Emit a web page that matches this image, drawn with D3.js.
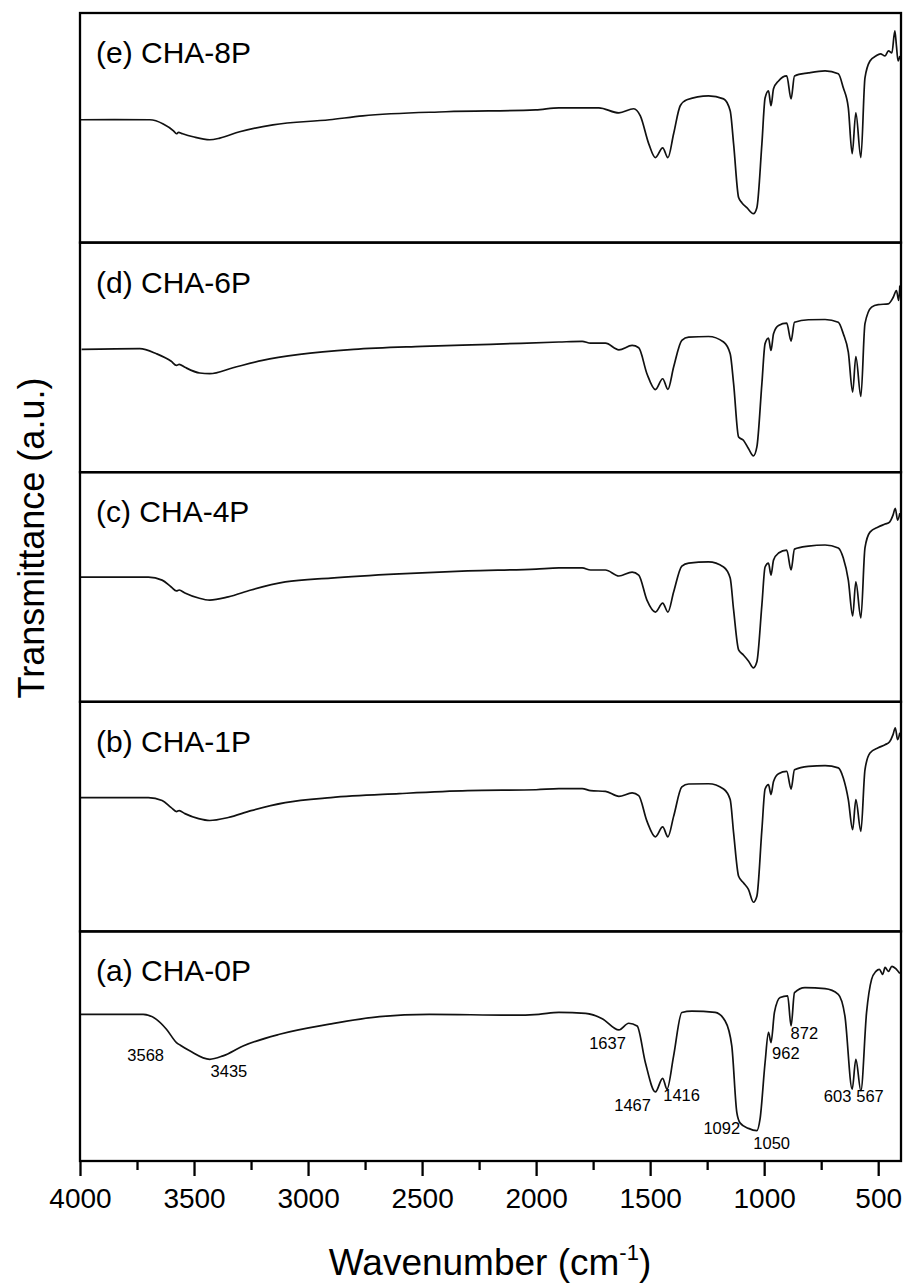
<!DOCTYPE html>
<html><head><meta charset="utf-8">
<script src="https://cdn.jsdelivr.net/npm/d3@7"></script>
<style>
body{margin:0;background:#fff}
svg{display:block}
text{font-family:"Liberation Sans", Arial, Helvetica, sans-serif;fill:#000}
</style>
</head><body>
<svg id="chart" width="905" height="1283"></svg>
<script>
// ---------- DATA ----------
const panelLabels = ["(e) CHA-8P", "(d) CHA-6P", "(c) CHA-4P", "(b) CHA-1P", "(a) CHA-0P"];

// [wavenumber (cm-1), transmittance (a.u., 0-100 within each panel)]
const spectrumE = [[4000,53.5],[3850,53.6],[3694,53.5],[3635,51.7],[3590,48.7],[3577,47.4],[3568,48.0],[3550,47.4],[3504,46.1],[3431,44.8],[3387,45.5],[3300,48.3],[3154,51.3],[2906,53.5],[2760,55.2],[2396,57.0],[2002,57.8],[1900,58.7],[1725,58.7],[1637,56.5],[1572,58.3],[1543,55.2],[1506,43.0],[1477,37.0],[1445,41.3],[1422,37.0],[1397,47.4],[1368,59.6],[1339,62.2],[1244,63.9],[1178,62.6],[1149,57.4],[1134,43.0],[1112,19.6],[1098,17.4],[1076,15.2],[1047,12.6],[1032,15.2],[1010,43.0],[996,63.0],[981,66.1],[970,59.6],[959,67.0],[937,70.4],[901,72.6],[882,62.6],[867,72.6],[806,73.9],[733,74.8],[675,73.5],[653,67.4],[631,58.7],[614,38.7],[598,56.5],[576,37.0],[558,71.7],[536,79.1],[510,81.3],[490,82.2],[470,81.3],[455,83.5],[440,82.6],[427,92.2],[420,85.7],[413,79.1],[405,81.3]];

const spectrumD = [[3993,53.5],[3738,53.8],[3665,51.6],[3600,48.3],[3577,46.5],[3565,47.0],[3540,45.7],[3475,43.2],[3431,42.9],[3329,45.5],[3200,48.7],[3037,51.3],[2800,53.5],[2500,54.8],[2200,55.7],[1900,56.7],[1798,57.0],[1761,56.2],[1696,56.2],[1637,53.3],[1579,55.2],[1550,54.2],[1514,42.9],[1477,36.0],[1445,40.7],[1422,36.1],[1397,45.8],[1361,57.4],[1331,58.8],[1244,59.1],[1178,56.7],[1149,51.6],[1134,38.6],[1112,15.3],[1091,13.9],[1069,10.3],[1047,7.1],[1032,11.0],[1010,38.6],[996,56.0],[981,58.4],[970,53.0],[959,60.3],[937,63.9],[901,64.9],[882,57.1],[867,65.3],[806,66.4],[733,66.5],[675,65.3],[653,60.3],[631,52.3],[612,34.9],[598,50.4],[576,33.0],[558,64.7],[529,71.9],[500,73.0],[456,73.3],[434,76.2],[420,79.1],[410,74.8],[405,81.3]];

const spectrumC = [[4000,54.3],[3700,54.3],[3640,53.0],[3600,50.0],[3577,48.3],[3565,48.7],[3540,47.4],[3480,45.2],[3431,44.3],[3350,45.7],[3250,48.7],[3100,52.2],[2900,53.9],[2600,55.7],[2300,57.0],[2000,57.8],[1900,58.3],[1798,58.3],[1761,57.4],[1696,57.4],[1637,54.8],[1579,56.5],[1550,55.2],[1514,44.3],[1477,39.1],[1445,43.0],[1422,39.1],[1397,47.8],[1361,59.1],[1331,60.4],[1244,60.9],[1178,58.7],[1149,53.9],[1134,40.0],[1112,22.6],[1091,20.4],[1069,17.8],[1047,14.8],[1032,17.4],[1010,42.2],[996,58.7],[981,60.4],[970,55.2],[959,61.7],[937,64.8],[901,66.1],[882,57.4],[867,66.5],[806,67.8],[733,68.3],[675,67.0],[653,62.6],[631,53.0],[612,37.4],[598,52.2],[576,36.5],[558,67.0],[536,73.9],[500,76.1],[470,77.4],[450,78.3],[435,81.3],[425,84.3],[415,79.1],[405,82.2]];

const spectrumB = [[4000,58.3],[3700,58.3],[3640,57.0],[3600,53.9],[3577,52.2],[3565,52.6],[3540,51.3],[3480,49.1],[3431,48.3],[3350,49.6],[3250,52.6],[3100,56.1],[2900,58.3],[2600,60.0],[2300,61.3],[2000,61.7],[1900,62.2],[1798,62.2],[1761,61.3],[1696,61.0],[1637,58.8],[1579,60.3],[1550,59.1],[1514,48.0],[1477,41.2],[1445,45.5],[1422,41.2],[1397,50.1],[1361,62.9],[1331,64.2],[1244,64.3],[1178,62.0],[1149,57.4],[1134,42.9],[1112,24.0],[1091,21.2],[1069,18.3],[1047,12.7],[1032,15.3],[1010,44.3],[996,62.0],[981,63.9],[970,59.6],[959,65.3],[937,68.7],[901,69.7],[882,62.0],[867,70.4],[806,71.9],[733,72.2],[675,71.2],[653,66.8],[631,57.4],[612,44.3],[598,57.4],[576,43.6],[558,70.4],[536,77.7],[500,80.0],[470,81.3],[450,82.6],[435,85.7],[425,88.7],[415,83.5],[405,86.5]];

const spectrumA = [[4000,63.9],[3723,63.9],[3665,61.7],[3621,57.4],[3577,51.6],[3560,50.4],[3519,48.0],[3431,44.3],[3373,45.8],[3285,50.1],[3125,55.2],[2906,59.6],[2687,62.9],[2469,63.9],[2104,63.5],[1988,63.9],[1900,64.7],[1783,64.3],[1710,62.0],[1637,57.1],[1594,60.0],[1557,58.8],[1521,42.9],[1477,30.1],[1445,36.0],[1426,31.3],[1397,45.8],[1361,64.7],[1317,65.3],[1215,64.7],[1171,61.0],[1142,50.1],[1120,21.2],[1105,16.5],[1069,14.2],[1032,13.2],[1018,18.3],[996,42.9],[981,56.0],[970,51.6],[955,64.7],[930,71.2],[897,71.9],[882,58.8],[867,73.3],[821,75.5],[733,75.1],[675,72.6],[646,63.2],[614,31.3],[598,44.3],[576,30.6],[551,64.7],[529,79.1],[510,82.6],[495,83.5],[480,81.3],[470,84.3],[455,82.6],[440,84.8],[420,83.5],[405,81.7]];

const majorTicks = [4000, 3500, 3000, 2500, 2000, 1500, 1000, 500];
const minorTicks = [3750, 3250, 2750, 2250, 1750, 1250, 750];

// peak annotations in panel (a): label, wavenumber position, transmittance position
const peakLabels = ["3568", "3435", "1637", "1467", "1416", "1092", "1050", "962", "872", "603", "567"];
const peakLabelX = [3712, 3347, 1687, 1577, 1362, 1186, 967, 905, 824, 678, 536];
const peakLabelY = [46.2, 38.9, 51.3, 24.4, 28.7, 14.2, 7.7, 46.9, 55.6, 28.0, 28.0];

// ---------- CHART ----------
const series = [spectrumE, spectrumD, spectrumC, spectrumB, spectrumA];
const svg = d3.select("#chart");
const pLeft = 80, pRight = 901, pTop = 13, pBottom = 1161;
const nP = series.length;
const ph = (pBottom - pTop) / nP;

const x = d3.scaleLinear().domain([4000, 400]).range([pLeft, pRight]);

series.forEach((data, i) => {
  const y = d3.scaleLinear().domain([0, 100]).range([pTop + ph * (i + 1), pTop + ph * i]);
  const g = svg.append("g");
  g.append("path")
    .datum(data)
    .attr("fill", "none")
    .attr("stroke", "#111")
    .attr("stroke-width", 1.7)
    .attr("stroke-linejoin", "round")
    .attr("d", d3.line().x(d => x(d[0])).y(d => y(d[1])).curve(d3.curveMonotoneX));
  g.append("rect")
    .attr("x", pLeft).attr("y", pTop + ph * i)
    .attr("width", pRight - pLeft).attr("height", ph)
    .attr("fill", "none").attr("stroke", "#000").attr("stroke-width", 2.3);
  g.append("text")
    .attr("x", 96).attr("y", pTop + ph * i + 50)
    .attr("font-size", 30)
    .text(panelLabels[i]);
  if (i === nP - 1) {
    peakLabels.forEach((t, k) => {
      g.append("text")
        .attr("x", x(peakLabelX[k])).attr("y", y(peakLabelY[k]))
        .attr("text-anchor", "middle").attr("dy", "0.35em")
        .attr("font-size", 16.5)
        .text(t);
    });
  }
});

// x axis
const axMajor = d3.axisBottom(x).tickValues(majorTicks).tickSize(15).tickPadding(12).tickFormat(d3.format("d"));
const axMinor = d3.axisBottom(x).tickValues(minorTicks).tickSize(9).tickFormat("");
const gMaj = svg.append("g").attr("transform", `translate(0,${pBottom})`).call(axMajor);
const gMin = svg.append("g").attr("transform", `translate(0,${pBottom})`).call(axMinor);
[gMaj, gMin].forEach(g => {
  g.select(".domain").remove();
  g.selectAll(".tick line").attr("stroke", "#000").attr("stroke-width", 2.3);
});
gMaj.selectAll(".tick text").attr("font-size", 28).attr("fill", "#000")
  .style("font-family", '"Liberation Sans", Arial, sans-serif');

// axis titles
const xt = svg.append("text").attr("x", 490).attr("y", 1275).attr("text-anchor", "middle").attr("font-size", 37);
xt.append("tspan").text("Wavenumber (cm");
xt.append("tspan").attr("font-size", 22).attr("dy", -15).text("-1");
xt.append("tspan").attr("dy", 15).text(")");

svg.append("text")
  .attr("transform", "translate(44,538) rotate(-90)")
  .attr("text-anchor", "middle").attr("font-size", 36)
  .text("Transmittance (a.u.)");
</script>
</body></html>
